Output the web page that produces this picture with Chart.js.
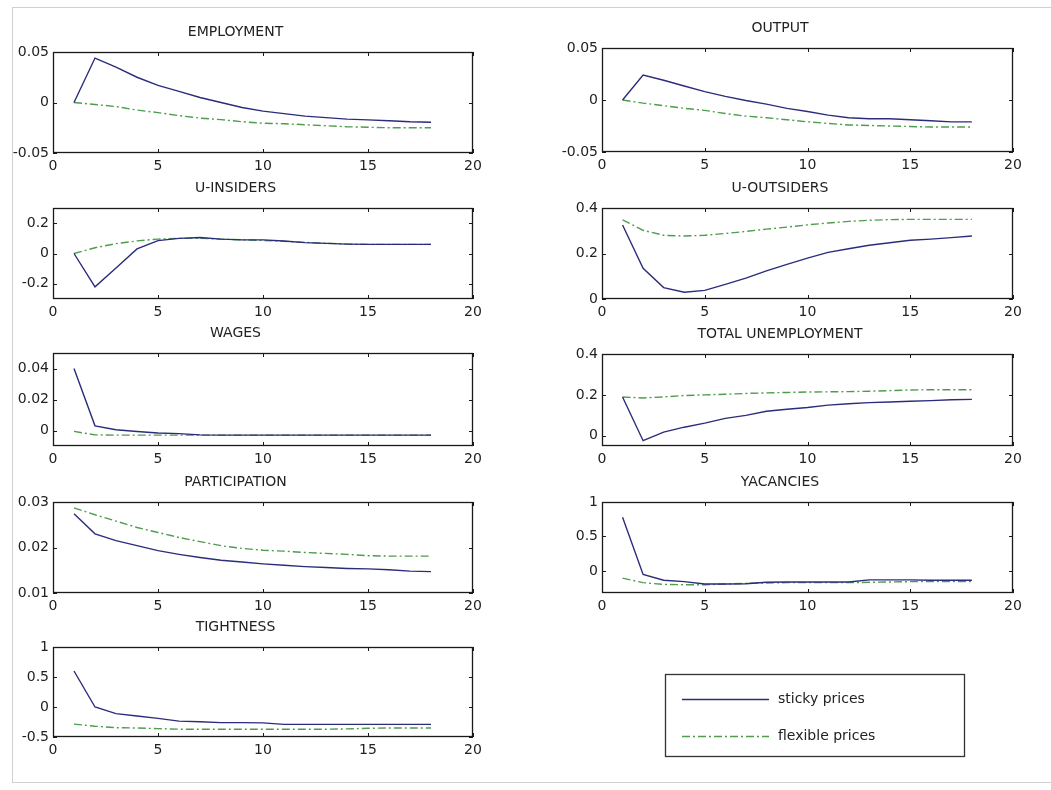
<!DOCTYPE html>
<html>
<head>
<meta charset="utf-8">
<script src="https://cdn.jsdelivr.net/npm/chart.js@4.4.1/dist/chart.umd.min.js"></script>
<style>
  body { margin: 0; background: #fff; }
  #page { position: relative; width: 1051px; height: 790px; overflow: hidden; background: #fff; }
  #frame { position: absolute; left: 12px; top: 7px; width: 1060px; height: 776px; border: 1px solid #cfcfcf; box-sizing: border-box; }
  canvas { position: absolute; }
</style>
</head>
<body>
<div id="page">
  <div id="frame"></div>
</div>
<script>
// periods after the shock
const periods = [1, 2, 3, 4, 5, 6, 7, 8, 9, 10, 11, 12, 13, 14, 15, 16, 17, 18];
const xTicks = [0, 5, 10, 15, 20];

// impulse responses
const employmentSticky = [0, 0.044, 0.035, 0.025, 0.017, 0.011, 0.005, 0.000, -0.005, -0.0085, -0.011, -0.0135, -0.015, -0.0165, -0.0172, -0.018, -0.019, -0.0195];
const employmentFlexible = [0, -0.002, -0.004, -0.0075, -0.010, -0.013, -0.0155, -0.017, -0.019, -0.0205, -0.021, -0.022, -0.023, -0.024, -0.0245, -0.025, -0.025, -0.025];

const outputSticky = [0, 0.024, 0.019, 0.0135, 0.008, 0.0035, -0.0005, -0.004, -0.008, -0.011, -0.0145, -0.017, -0.018, -0.018, -0.019, -0.020, -0.021, -0.021];
const outputFlexible = [0, -0.003, -0.0055, -0.008, -0.010, -0.013, -0.0155, -0.017, -0.019, -0.021, -0.0225, -0.024, -0.0245, -0.025, -0.0255, -0.026, -0.026, -0.026];

const uInsidersSticky = [0, -0.22, -0.095, 0.03, 0.085, 0.1, 0.105, 0.095, 0.09, 0.09, 0.082, 0.072, 0.067, 0.062, 0.06, 0.06, 0.06, 0.06];
const uInsidersFlexible = [0, 0.038, 0.065, 0.083, 0.095, 0.1, 0.1, 0.095, 0.09, 0.086, 0.08, 0.073, 0.068, 0.062, 0.06, 0.06, 0.06, 0.06];

const uOutsidersSticky = [0.325, 0.135, 0.05, 0.03, 0.038, 0.064, 0.092, 0.124, 0.152, 0.18, 0.205, 0.221, 0.236, 0.247, 0.258, 0.263, 0.27, 0.277];
const uOutsidersFlexible = [0.348, 0.302, 0.28, 0.277, 0.28, 0.288, 0.297, 0.307, 0.316, 0.326, 0.334, 0.341, 0.346, 0.349, 0.35, 0.35, 0.35, 0.35];

const wagesSticky = [0.040, 0.003, 0.0005, -0.0006, -0.0016, -0.002, -0.0028, -0.003, -0.003, -0.003, -0.003, -0.003, -0.003, -0.003, -0.003, -0.003, -0.003, -0.003];
const wagesFlexible = [-0.0006, -0.0028, -0.003, -0.003, -0.003, -0.003, -0.003, -0.003, -0.003, -0.003, -0.003, -0.003, -0.003, -0.003, -0.003, -0.003, -0.003, -0.003];

const totalUnempSticky = [0.19, -0.024, 0.018, 0.042, 0.062, 0.085, 0.1, 0.12, 0.13, 0.138, 0.15, 0.157, 0.162, 0.165, 0.169, 0.172, 0.176, 0.178];
const totalUnempFlexible = [0.19, 0.185, 0.19, 0.197, 0.2, 0.203, 0.207, 0.21, 0.212, 0.214, 0.215, 0.216, 0.218, 0.221, 0.224, 0.225, 0.225, 0.225];

const participationSticky = [0.0274, 0.023, 0.0215, 0.0204, 0.0193, 0.0185, 0.0178, 0.0172, 0.0168, 0.0164, 0.0161, 0.0158, 0.0156, 0.0154, 0.0153, 0.0151, 0.0148, 0.0147];
const participationFlexible = [0.0287, 0.0272, 0.0258, 0.0244, 0.0233, 0.0222, 0.0213, 0.0204, 0.0198, 0.0194, 0.0192, 0.0189, 0.0187, 0.0185, 0.0182, 0.0181, 0.0181, 0.0181];

const vacanciesSticky = [0.78, -0.05, -0.135, -0.155, -0.19, -0.19, -0.185, -0.165, -0.16, -0.16, -0.16, -0.16, -0.13, -0.13, -0.13, -0.135, -0.135, -0.135];
const vacanciesFlexible = [-0.105, -0.17, -0.195, -0.2, -0.2, -0.19, -0.18, -0.175, -0.17, -0.17, -0.17, -0.17, -0.165, -0.16, -0.155, -0.155, -0.155, -0.155];

const tightnessSticky = [0.6, 0.0, -0.11, -0.15, -0.19, -0.235, -0.245, -0.26, -0.26, -0.265, -0.29, -0.29, -0.29, -0.29, -0.29, -0.29, -0.29, -0.29];
const tightnessFlexible = [-0.285, -0.32, -0.345, -0.35, -0.36, -0.37, -0.37, -0.37, -0.37, -0.37, -0.37, -0.37, -0.37, -0.365, -0.355, -0.35, -0.35, -0.35];

// y tick labels per panel
const employmentTicks = [-0.05, 0, 0.05];
const outputTicks = [-0.05, 0, 0.05];
const uInsidersTicks = [-0.2, 0, 0.2];
const uOutsidersTicks = [0, 0.2, 0.4];
const wagesTicks = [0, 0.02, 0.04];
const totalUnempTicks = [0, 0.2, 0.4];
const participationTicks = [0.01, 0.02, 0.03];
const vacanciesTicks = [0, 0.5, 1];
const tightnessTicks = [-0.5, 0, 0.5, 1];

const seriesNames = ['sticky prices', 'flexible prices'];

const STICKY = '#2c2c7c';
const FLEX = '#4f9c4f';
const FLEX_DASH = [8, 3, 2, 3];
const FONT = "'DejaVu Sans', sans-serif";
const TEXT = '#222';

// plot-area boxes: left, top, width, height
const L = 53, LW = 420, R = 602, RW = 411;
const panels = [
  { title: 'EMPLOYMENT', s: employmentSticky, f: employmentFlexible, ticks: employmentTicks, min: -0.05, max: 0.05, box: [L, 52, LW, 101] },
  { title: 'OUTPUT', s: outputSticky, f: outputFlexible, ticks: outputTicks, min: -0.05, max: 0.05, box: [R, 48, RW, 104] },
  { title: 'U-INSIDERS', s: uInsidersSticky, f: uInsidersFlexible, ticks: uInsidersTicks, min: -0.3, max: 0.3, box: [L, 208, LW, 91] },
  { title: 'U-OUTSIDERS', s: uOutsidersSticky, f: uOutsidersFlexible, ticks: uOutsidersTicks, min: 0, max: 0.4, box: [R, 208, RW, 91] },
  { title: 'WAGES', s: wagesSticky, f: wagesFlexible, ticks: wagesTicks, min: -0.01, max: 0.05, box: [L, 353, LW, 93] },
  { title: 'TOTAL UNEMPLOYMENT', s: totalUnempSticky, f: totalUnempFlexible, ticks: totalUnempTicks, min: -0.05, max: 0.4, box: [R, 354, RW, 92] },
  { title: 'PARTICIPATION', s: participationSticky, f: participationFlexible, ticks: participationTicks, min: 0.01, max: 0.03, box: [L, 502, LW, 91] },
  { title: 'YACANCIES', s: vacanciesSticky, f: vacanciesFlexible, ticks: vacanciesTicks, min: -0.32, max: 1, box: [R, 502, RW, 91] },
  { title: 'TIGHTNESS', s: tightnessSticky, f: tightnessFlexible, ticks: tightnessTicks, min: -0.5, max: 1, box: [L, 647, LW, 90] }
];

// MATLAB-like axes box with inward tick marks
const axesBox = {
  id: 'axesBox',
  afterDatasetsDraw(chart) {
    const { ctx, chartArea: a, scales: { x, y } } = chart;
    ctx.save();
    ctx.strokeStyle = '#1a1a1a';
    ctx.lineWidth = 1;
    ctx.beginPath();
    x.ticks.forEach(t => {
      const px = Math.round(x.getPixelForValue(t.value)) + 0.5;
      ctx.moveTo(px, a.top); ctx.lineTo(px, a.top + 4);
      ctx.moveTo(px, a.bottom); ctx.lineTo(px, a.bottom - 4);
    });
    y.ticks.forEach(t => {
      const py = Math.round(y.getPixelForValue(t.value)) + 0.5;
      ctx.moveTo(a.left, py); ctx.lineTo(a.left + 4, py);
      ctx.moveTo(a.right, py); ctx.lineTo(a.right - 4, py);
    });
    ctx.stroke();
    ctx.lineWidth = 1.3;
    ctx.strokeRect(a.left + 0.5, a.top + 0.5, a.width - 1, a.height - 1);
    ctx.restore();
  }
};

const Y_W = 55, X_H = 24, PAD_R = 14, TITLE_H = 31;
const page = document.getElementById('page');

panels.forEach(p => {
  const [bx, by, bw, bh] = p.box;
  const cv = document.createElement('canvas');
  cv.width = Y_W + bw + PAD_R;
  cv.height = TITLE_H + bh + X_H;
  cv.style.left = (bx - Y_W) + 'px';
  cv.style.top = (by - TITLE_H) + 'px';
  page.appendChild(cv);

  const chart = new Chart(cv, {
    type: 'line',
    data: {
      datasets: [
        { label: seriesNames[0], data: periods.map((t, i) => ({ x: t, y: p.s[i] })),
          borderColor: STICKY, borderWidth: 1.4, pointRadius: 0, tension: 0 },
        { label: seriesNames[1], data: periods.map((t, i) => ({ x: t, y: p.f[i] })),
          borderColor: FLEX, borderWidth: 1.4, borderDash: FLEX_DASH, pointRadius: 0, tension: 0 }
      ]
    },
    options: {
      responsive: false,
      animation: false,
      layout: { padding: { left: 0, right: PAD_R, top: 0, bottom: 0 } },
      plugins: {
        legend: { display: false },
        tooltip: { enabled: false },
        title: {
          display: true, text: p.title, color: TEXT,
          font: { family: FONT, size: 14, weight: 'normal', lineHeight: '17px' },
          padding: { top: 3, bottom: 11 }
        }
      },
      scales: {
        x: {
          type: 'linear', min: 0, max: 20,
          grid: { display: false, drawTicks: false },
          border: { display: false },
          afterBuildTicks: s => { s.ticks = xTicks.map(v => ({ value: v })); },
          afterFit: s => { s.height = X_H; },
          ticks: { color: TEXT, padding: 5, maxRotation: 0, font: { family: FONT, size: 14 }, callback: v => String(v) }
        },
        y: {
          type: 'linear', min: p.min, max: p.max,
          grid: { display: false, drawTicks: false },
          border: { display: false },
          afterBuildTicks: s => { s.ticks = p.ticks.map(v => ({ value: v })); },
          afterFit: s => { s.width = Y_W; },
          ticks: { color: TEXT, padding: 4, font: { family: FONT, size: 14 }, callback: v => String(v) }
        }
      }
    },
    plugins: [axesBox]
  });

  // pin the plot area exactly onto its box
  const a = chart.chartArea;
  cv.style.left = (bx - a.left) + 'px';
  cv.style.top = (by - a.top) + 'px';
});

// legend box in the empty bottom-right slot
const lg = document.createElement('canvas');
lg.width = 302; lg.height = 85;
lg.style.left = '664px'; lg.style.top = '673px';
page.appendChild(lg);
const c = lg.getContext('2d');
c.fillStyle = '#fff';
c.fillRect(0, 0, lg.width, lg.height);
c.strokeStyle = '#333';
c.lineWidth = 1.3;
c.strokeRect(1.5, 1.5, 299, 82);
c.font = '14px ' + FONT;
c.fillStyle = TEXT;
c.textBaseline = 'middle';
[[STICKY, [], 26], [FLEX, FLEX_DASH, 63]].forEach(([col, dash, yy], i) => {
  c.beginPath();
  c.strokeStyle = col;
  c.lineWidth = 1.4;
  c.setLineDash(dash);
  c.moveTo(18, yy + 0.5); c.lineTo(105, yy + 0.5);
  c.stroke();
  c.setLineDash([]);
  c.fillText(seriesNames[i], 114, yy);
});
</script>
</body>
</html>
